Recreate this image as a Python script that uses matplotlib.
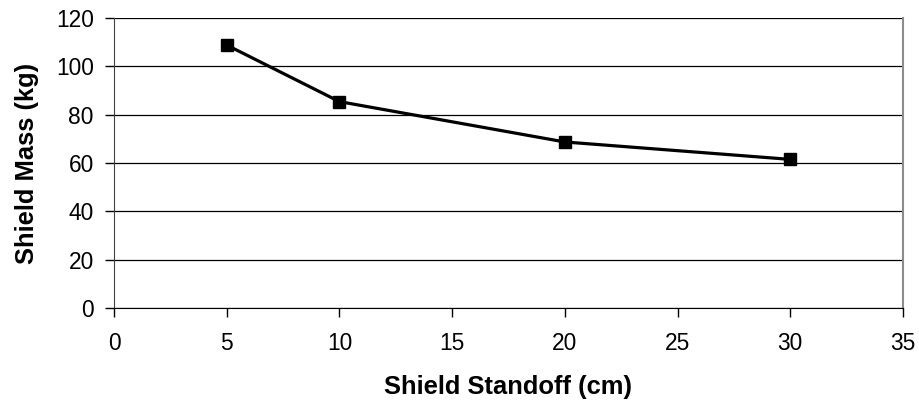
import matplotlib
matplotlib.use("Agg")
import matplotlib.pyplot as plt

standoff = [5, 10, 20, 30]
mass = [108.8, 85.4, 68.7, 61.5]
xticks = [0, 5, 10, 15, 20, 25, 30, 35]
yticks = [0, 20, 40, 60, 80, 100, 120]

plt.rcParams['font.family'] = ['Liberation Sans', 'DejaVu Sans']

fig = plt.figure(figsize=(9.19, 4.07), dpi=100)
ax = fig.add_axes([0.124, 0.2432, 0.9826 - 0.124, 0.9558 - 0.2432])

ax.set_xlim(0, 35)
ax.set_ylim(0, 120)
ax.set_xticks(xticks)
ax.set_yticks(yticks)
ax.yaxis.grid(True, color='black', linewidth=0.9)
ax.set_axisbelow(True)

ax.plot(standoff, mass, color='black', linewidth=2.3, marker='s', markersize=8, zorder=3)

ax.spines['top'].set_visible(False)
ax.spines['right'].set_color('#8c8c8c')
ax.spines['right'].set_linewidth(1.5)
ax.spines['left'].set_color('#404040')
ax.spines['bottom'].set_color('black')
ax.tick_params(axis='both', direction='out', length=6.5, width=1, labelsize=16.4, colors='black')
ax.tick_params(axis='x', pad=11)
ax.tick_params(axis='y', pad=8)

ax.set_xlabel('Shield Standoff (cm)', fontsize=18.4, fontweight='bold', labelpad=14)
ax.set_ylabel('Shield Mass (kg)', fontsize=18.4, fontweight='bold', labelpad=12)

fig.savefig('out.png', dpi=100)
